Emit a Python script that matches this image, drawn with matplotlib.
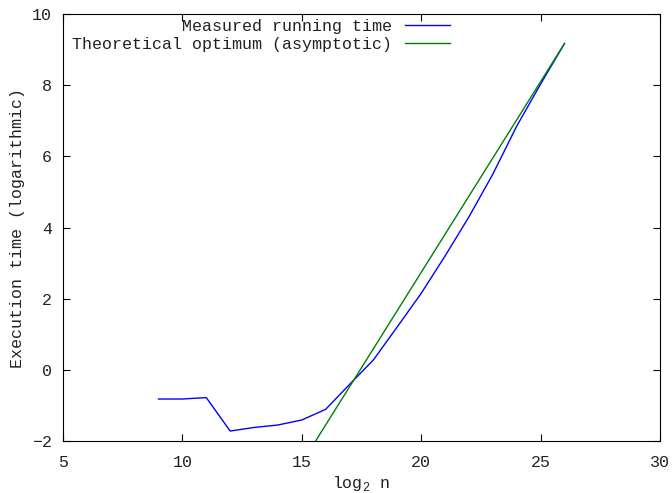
import matplotlib
matplotlib.use('Agg')
import matplotlib.pyplot as plt

# Mesures (log2 n, temps logarithmique)
log_n = [9, 10, 11, 12, 13, 14, 15, 16, 17, 18, 19, 20, 21, 22, 23, 24, 25, 26]
measured = [-0.82, -0.82, -0.78, -1.72, -1.62, -1.55, -1.41, -1.11, -0.41, 0.28,
            1.21, 2.15, 3.2, 4.3, 5.5, 6.85, 8.03, 9.17]

# Optimum théorique (droite asymptotique)
theory_n = [15, 26]
theory = [-2.62, 9.17]

plt.rcParams['font.family'] = ['Liberation Mono', 'DejaVu Sans']
plt.rcParams['font.size'] = 12
plt.rcParams['text.color'] = '#222222'
plt.rcParams['xtick.labelcolor'] = '#222222'
plt.rcParams['ytick.labelcolor'] = '#222222'
plt.rcParams['axes.labelcolor'] = '#222222'

fig = plt.figure(figsize=(6.72, 4.93), dpi=100)
ax = fig.add_axes([63/672, 1 - 441/493, (660 - 63)/672, (441 - 14)/493])

ax.plot(log_n, measured, color='#0000ff', lw=1.0,
        label=' ' * 11 + 'Measured running time')
ax.plot(theory_n, theory, color='#008000', lw=1.0,
        label='Theoretical optimum (asymptotic)')

ax.set_xlim(5, 30)
ax.set_ylim(-2, 10)
ax.set_xticks([5, 10, 15, 20, 25, 30])
ax.set_yticks([-2, 0, 2, 4, 6, 8, 10])
ax.tick_params(direction='in', length=5, width=0.8, top=True, right=True,
               labelsize=12)
ax.tick_params(axis='x', pad=10)
ax.tick_params(axis='y', pad=8)
for s in ax.spines.values():
    s.set_linewidth(0.8)

ax.set_xlabel(r'log$_{\mathregular{2}}$ n', labelpad=3)
ax.set_ylabel('Execution time (logarithmic)', labelpad=5)

ax.legend(loc='upper right', bbox_to_anchor=(0.66, 1.004), borderaxespad=0,
          frameon=False, markerfirst=False, handlelength=2.7,
          handletextpad=0.8, labelspacing=0.17)

plt.savefig('out.png', dpi=100)
